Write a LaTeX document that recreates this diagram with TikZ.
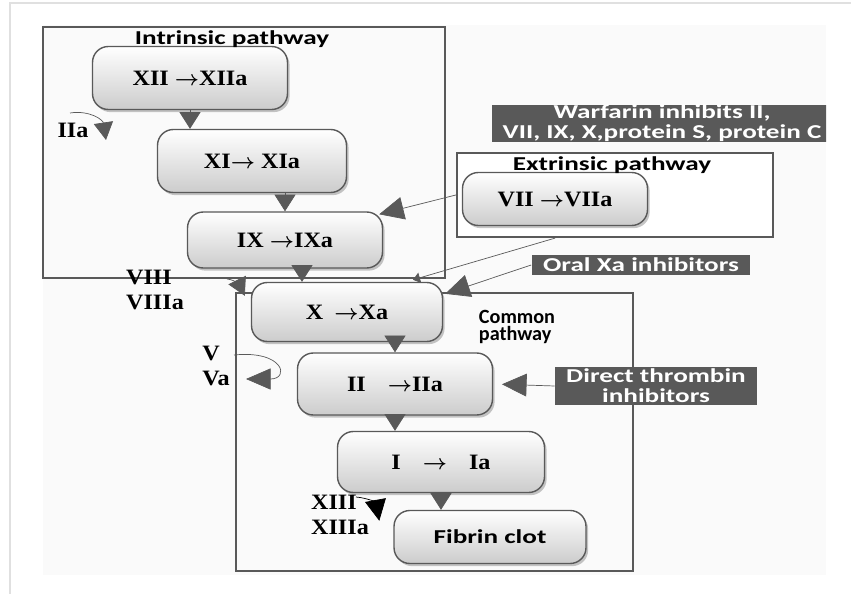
\documentclass[tikz,border=0pt]{standalone}
\usepackage{fontspec}
\setmainfont{Liberation Serif}[FakeStretch=1.1]
\newfontfamily\calibri{Carlito}[FakeStretch=1.38]
\newfontfamily\calibriplain{Carlito}
\usetikzlibrary{positioning,calc,arrows.meta,shadows}
\definecolor{accent}{rgb}{0.35,0.35,0.35}
\definecolor{accent2}{rgb}{0.80,0.80,0.80}
\newcommand{\stagefont}{\fontsize{12.5}{14}\selectfont\bfseries}
\newcommand{\titlefont}{\calibri\fontsize{11.2}{11.4}\selectfont\bfseries}
\newcommand{\ra}{{\boldmath$\rightarrow$}}

\begin{document}
\begin{tikzpicture}[
  x = 0.02cm,
  y = -0.02cm,
  stage/.style = {
    draw = accent,
    rounded corners = 9pt,
    top color = white,
    bottom color = accent2,
    drop shadow = {opacity=0.45, shadow xshift=1.2pt, shadow yshift=-1.5pt},
    line width = 0.8pt,
    font = \stagefont,
  },
  pathway/.style = {
    draw = accent,
    line width = 1.3pt,
  },
  ptitle/.style = {
    font = \titlefont,
  },
  drug/.style = {
    fill = accent,
    text = white,
    font = \titlefont,
    align = center,
    inner sep = 0pt,
  },
  cofactor/.style = {
    font = \stagefont,
    align = left,
    inner sep = 0pt,
  },
  flow/.style = {
    draw = accent,
    thin,
    -{Triangle[width=12pt,length=9.5pt]},
  },
  hook/.style = {
    draw = accent,
    thin,
    -{Triangle[width=11pt,length=10pt]},
  },
]

  \useasboundingbox (0,0) rectangle (851,594);
  \fill[black!2] (43,25) rectangle (826,575);
  \draw[black!12, line width=0.8pt] (10,594) -- (10,3) -- (851,3);

  % pathway frames
  \node[pathway, minimum width=8.04cm, minimum height=5.02cm] (intr) at (244,152.5) {};
  \node[pathway, fill=white, minimum width=6.32cm, minimum height=1.68cm] (extr) at (615,195) {};
  \node[pathway, minimum width=7.94cm, minimum height=5.56cm] (comm) at (434.5,432) {};
  \node[font=\calibriplain\fontsize{11.5}{10}\selectfont\bfseries, align=left] (commt) at (517,327) {Common\\pathway};

  % factor stages
  \node[stage, minimum width=3.9cm, minimum height=1.26cm] (xii) at (190,78) {XII \ra XIIa};
  \node[stage, minimum width=3.78cm, minimum height=1.26cm] (xi) at (252,161) {XI\ra\ XIa};
  \node[stage, minimum width=3.9cm, minimum height=1.12cm] (ix) at (285,240) {IX \ra IXa};
  \node[stage, minimum width=3.7cm, minimum height=1.06cm] (vii) at (555,199) {VII \ra VIIa};
  \node[stage, minimum width=3.82cm, minimum height=1.18cm] (x) at (347,312) {X\enspace\ra Xa};
  \node[stage, minimum width=3.9cm, minimum height=1.24cm] (ii) at (395,384) {II\quad\ra IIa};
  \node[stage, minimum width=4.14cm, minimum height=1.22cm] (i) at (441,462) {I\quad\ra\quad Ia};
  \node[stage, font=\titlefont, minimum width=3.84cm, minimum height=1.06cm] (fibrin) at (490,537) {Fibrin clot};

  \node[ptitle] (intrt) at (232,39) {Intrinsic pathway};
  \node[ptitle] (extrt) at (612,165) {Extrinsic pathway};

  % drugs
  \begin{scope}
    \clip (0,0) rectangle (826,594);
    \node[drug, minimum width=6.8cm, minimum height=0.72cm] (warf) at (662,123.5) {Warfarin inhibits II,\\VII, IX, X,protein S, protein C};
  \end{scope}
  \node[drug, minimum width=4.38cm, minimum height=0.4cm] (oral) at (641,265) {Oral Xa inhibitors};
  \node[drug, minimum width=4.04cm, minimum height=0.78cm] (direct) at (656,386) {Direct thrombin\\inhibitors};

  % cofactors
  \node[cofactor] (iia) at (73,130) {IIa};
  \node[cofactor] (viii) at (155,290) {VIII\\VIIIa};
  \node[cofactor] (v) at (216,366) {V\\Va};
  \node[cofactor] (xiii) at (340,515) {XIII\\XIIIa};

  \coordinate (iia from) at (70,113);
  \coordinate (iia to) at (106,140);
  \coordinate (viii from) at (227,279);
  \coordinate (v from) at (234,355);
  \coordinate (v to) at (246,379);
  \coordinate (xiii from) at (356,497);
  \path (ix.south) ++(17,0) coordinate (ix out);

  % cascade
  \draw[flow] (xii.south) -- (xii.south |- xi.north);
  \draw[flow] (xi.south -| ix.north) -- (ix.north);
  \draw[flow] (ix out) -- (ix out |- x.north);
  \draw[flow] (x.south -| ii.north) -- (ii.north);
  \draw[flow] (ii.south) -- (ii.south |- i.north);
  \draw[flow] (i.south) -- (i.south |- fibrin.north);

  \draw[flow, -{Triangle[width=13pt,length=14pt]}] (extr.west) -- ($(ix.north east)+(-4,3)$);
  \draw[flow, -{Triangle[width=6pt,length=4pt]}] (vii.south |- extr.south) -- ($(x.north)+(66,-2)$);
  \draw[flow, -{Triangle[width=13pt,length=14pt]}] (oral.west) -- ($(x.north east)+(2,12)$);
  \draw[flow, -{Triangle[width=13pt,length=14pt]}, shorten >=5pt] (direct.west) -- (ii.east);

  \draw[hook] (iia from) .. controls (90,110) and (103,120) .. (iia to);
  \draw[hook] (viii from) .. controls (236,280) and (240,286) .. ($(x.north west)+(-6,14)$);
  \draw[hook, -{Triangle[width=12pt,length=14pt]}] (v from) .. controls (284,350) and (290,379) .. (v to);
  \draw[hook, -{Triangle[width=12pt,length=12pt,fill=black]}, black] (xiii from) .. controls (368,498) and (376,503) .. ($(fibrin.north west)+(-14,11)$);

\end{tikzpicture}
\end{document}
